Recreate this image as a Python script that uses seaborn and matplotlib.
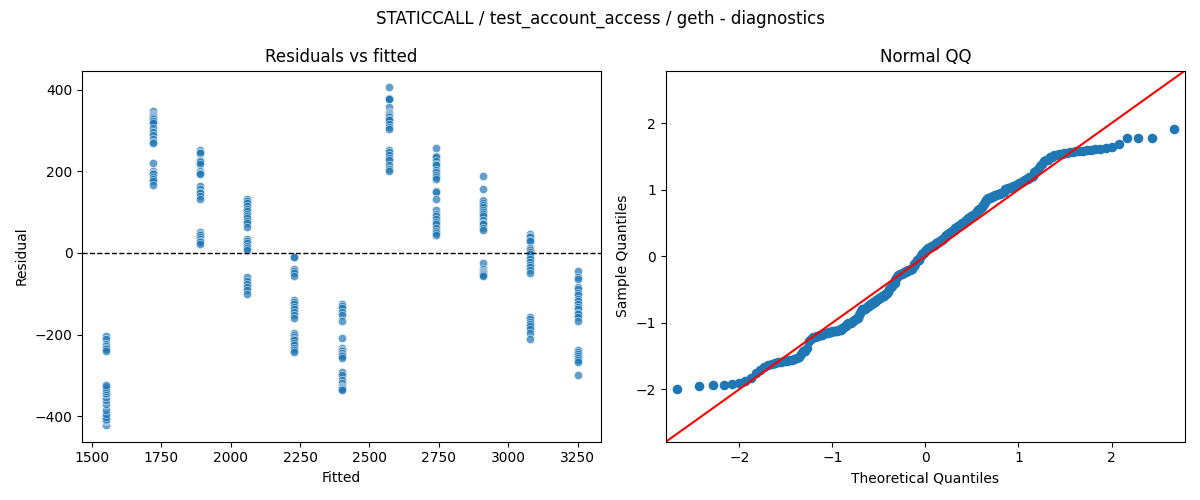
from statistics import NormalDist

import matplotlib

matplotlib.use("Agg")
import matplotlib.pyplot as plt
import numpy as np
import pandas as pd
import seaborn as sns


TITLE = "STATICCALL / test_account_access / geth - diagnostics"

# fitted value of each level and the residuals
FITTED = [1550, 1720, 1890, 2060, 2230, 2400, 2570, 2740, 2910, 3080, 3250]

res_1550 = [-421, -411, -409, -408, -406, -402, -395, -385, -370, -360, -352, -346,
            -342, -339, -334, -328, -323, -203, -212, -222, -228, -232, -236, -241]
res_1720 = [347, 341, 338, 336, 333, 330, 327, 324, 323, 318, 306, 296,
            288, 280, 272, 268, 219, 201, 196, 192, 187, 182, 175, 166]
res_1890 = [252, 248, 244, 228, 225, 222, 218, 200, 196, 192, 163, 157,
            150, 146, 140, 132, 52, 47, 43, 38, 34, 30, 26, 22]
res_2060 = [133, 128, 122, 115, 108, 103, 96, 90, 85, 78, 72, 63,
            33, 28, 24, 17, 12, 8, -59, -68, -76, -84, -92, -100]
res_2230 = [-10, -11, -40, -45, -50, -56, -115, -120, -126, -132, -138, -145,
            -152, -160, -196, -200, -205, -210, -214, -220, -226, -232, -237, -243]
res_2400 = [-124, -130, -136, -144, -152, -166, -208, -233, -238, -241, -244, -246,
            -249, -252, -257, -291, -300, -310, -318, -326, -329, -331, -333, -336]
res_2570 = [405, 378, 377, 376, 357, 344, 342, 340, 337, 335, 332, 328,
            325, 316, 308, 304, 252, 246, 240, 233, 227, 215, 206, 200]
res_2740 = [256, 238, 234, 226, 218, 214, 204, 198, 190, 186, 180, 152,
            148, 132, 106, 96, 90, 82, 76, 70, 60, 54, 48, 44]
res_2910 = [188, 156, 130, 127, 122, 117, 112, 106, 100, 95, 90, 80,
            74, 70, 62, 57, -25, -40, -44, -46, -50, -52, -54, -56]
res_3080 = [46, 42, 38, 32, 28, 12, 8, 2, -2, -10, -16, -22,
            -30, -34, -42, -50, -158, -163, -168, -174, -180, -186, -196, -210]
res_3250 = [-44, -60, -64, -84, -88, -98, -104, -112, -118, -126, -132, -138,
            -146, -150, -158, -166, -238, -243, -248, -252, -257, -262, -268, -300]

RESIDUAL_GROUPS = [res_1550, res_1720, res_1890, res_2060, res_2230, res_2400,
                   res_2570, res_2740, res_2910, res_3080, res_3250]


def build_frame() -> pd.DataFrame:
    rows = []
    for fitted, group in zip(FITTED, RESIDUAL_GROUPS):
        for r in group:
            rows.append({"fitted": fitted, "residual": r})
    return pd.DataFrame(rows)


def qq_points(values: np.ndarray):
    # same recipe as statsmodels qqplot(fit=True): positions i/(n+1), z-scored sample
    n = len(values)
    dist = NormalDist()
    theo = np.array([dist.inv_cdf(i / (n + 1)) for i in range(1, n + 1)])
    sample = np.sort((values - values.mean()) / values.std())
    return theo, sample


def main() -> None:
    df = build_frame()
    theo, sample = qq_points(df["residual"].to_numpy(dtype=float))

    fig, (ax1, ax2) = plt.subplots(1, 2, figsize=(12, 5), dpi=100)

    sns.scatterplot(data=df, x="fitted", y="residual", alpha=0.7, ax=ax1)
    ax1.axhline(0, color="black", linestyle="--", linewidth=1)
    ax1.set_title("Residuals vs fitted")
    ax1.set_xlabel("Fitted")
    ax1.set_ylabel("Residual")

    sns.scatterplot(x=theo, y=sample, s=48, linewidth=0, color="C0", ax=ax2)
    ax2.axline((0, 0), slope=1, color="red", linewidth=1.5)
    lim = 2.79
    ax2.set_xlim(-lim, lim)
    ax2.set_ylim(-lim, lim)
    ax2.set_title("Normal QQ")
    ax2.set_xlabel("Theoretical Quantiles")
    ax2.set_ylabel("Sample Quantiles")

    fig.suptitle(TITLE)
    fig.tight_layout()
    fig.savefig("out.png", dpi=100)
    plt.close(fig)


if __name__ == "__main__":
    main()
